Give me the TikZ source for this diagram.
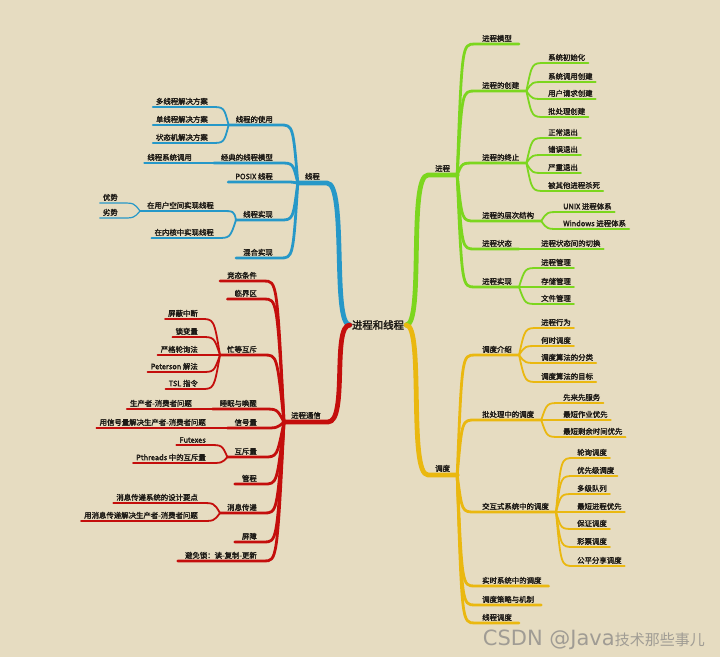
\documentclass[tikz,border=0pt]{standalone}
\usepackage{fontspec}
\setmainfont{Noto Sans CJK SC}[BoldFont=*, BoldFeatures={FakeBold=2.2}]
\newfontfamily\wmlatin{DejaVu Sans}
\definecolor{paper}{RGB}{230,220,193}
\definecolor{ink}{RGB}{30,27,22}
\definecolor{thrblue}{RGB}{38,152,200}
\definecolor{ipcred}{RGB}{196,14,12}
\definecolor{prcgreen}{RGB}{124,214,30}
\definecolor{schyellow}{RGB}{234,184,16}
\definecolor{wmgray}{RGB}{160,156,148}

\begin{document}
\begin{tikzpicture}[x=1pt, y=-1pt,
  font=\fontsize{7.4}{8.5}\selectfont\bfseries,
  lbl/.style={inner xsep=3pt, inner ysep=2pt, text=ink},
  hub/.style={lbl, inner xsep=7pt},
  top/.style={hub, inner ysep=3pt},
  br/.style={line cap=round, line join=round},
  lv1/.style={br, line width=4.8pt},
  lv2/.style={br, line width=2.8pt},
  lv3/.style={br, line width=1.8pt},
  lv4/.style={br, line width=1.2pt},
  tol/.style={to path={.. controls ([xshift=13pt]\tikztotarget) .. (\tikztotarget) \tikztonodes}},
  tor/.style={to path={.. controls ([xshift=-13pt]\tikztotarget) .. (\tikztotarget) \tikztonodes}}]

\fill[paper] (0,0) rectangle (720,657);
\useasboundingbox (0,0) rectangle (720,657);

\def\lb{280}   % right end of thread topics
\def\lr{264}   % right end of ipc topics
\def\rg{475}   % left end of process / scheduling topics

% root and the four main topics
\node[font=\fontsize{10.4}{12}\selectfont\bfseries, text=ink, inner sep=2pt] (root) at (378,325) {进程和线程};
\node[top, anchor=south east] (thr) at (327,183) {线程};
\node[top, anchor=south east] (ipc) at (328,422) {进程通信};
\node[top, anchor=south west] (prc) at (428,175) {进程};
\node[top, anchor=south west] (sch) at (428,475) {调度};

\draw[lv1, thrblue] (root.west) .. controls +(-18,0) and +(20,0) .. (thr.south east) -- (thr.south west);
\draw[lv1, ipcred] (root.west) .. controls +(-18,0) and +(20,0) .. (ipc.south east) -- (ipc.south west);
\draw[lv1, prcgreen] (root.east) .. controls +(18,0) and +(-20,0) .. (prc.south west) -- (prc.south east);
\draw[lv1, schyellow] (root.east) .. controls +(18,0) and +(-20,0) .. (sch.south west) -- (sch.south east);

% thread branch
\foreach \n/\y/\t in {use/125/线程的使用, model/163/经典的线程模型, posix/182/POSIX 线程,
                      impl/220/线程实现, hyb/258/混合实现}
{
  \node[hub, anchor=south east] (\n) at (\lb,\y) {\t};
  \draw[lv2, thrblue] (thr.south west) to[tol] (\n.south east) -- (\n.south west);
}
\foreach \n/\y/\t in {1/107/多线程解决方案, 2/125/单线程解决方案, 3/143/状态机解决方案}
{
  \node[lbl, anchor=south east] (use\n) at (211,\y) {\t};
  \draw[lv3, thrblue] (use.south west) to[tol] (use\n.south east) -- (use\n.south west);
}
\node[lbl, anchor=south east] (model1) at (195,163) {线程系统调用};
\draw[lv3, thrblue] (model.south west) -- (model1.south east) -- (model1.south west);
\node[hub, anchor=south east] (impl1) at (221,211) {在用户空间实现线程};
\node[lbl, anchor=south east] (impl2) at (217,238) {在内核中实现线程};
\foreach \n in {impl1, impl2}
  \draw[lv3, thrblue] (impl.south west) to[tol] (\n.south east) -- (\n.south west);
\foreach \n/\y/\t in {a/203/优势, b/218/劣势}
{
  \node[lbl, anchor=south east] (impl1\n) at (121,\y) {\t};
  \draw[lv4, thrblue] (impl1.south west) to[tol] (impl1\n.south east) -- (impl1\n.south west);
}

% ipc branch
\foreach \n/\y/\t in {race/281/竞态条件, crit/299/临界区, busy/355/忙等互斥, sleep/409/睡眠与唤醒,
                      sem/428/信号量, mutex/457/互斥量, mon/484/管程, msg/513/消息传递,
                      bar/542/屏障, rcu/561/{避免锁：读-复制-更新}}
{
  \node[hub, anchor=south east] (\n) at (\lr,\y) {\t};
  \draw[lv2, ipcred] (ipc.south west) to[tol] (\n.south east) -- (\n.south west);
}
\foreach \n/\y/\t in {1/319/屏蔽中断, 2/337/锁变量, 3/355/严格轮询法, 4/372/Peterson 解法, 5/389/TSL 指令}
{
  \node[lbl, anchor=south east] (busy\n) at (201,\y) {\t};
  \draw[lv3, ipcred] (busy.south west) to[tol] (busy\n.south east) -- (busy\n.south west);
}
\node[lbl, anchor=south east] (sleep1) at (195,409) {生产者-消费者问题};
\draw[lv3, ipcred] (sleep.south west) -- (sleep1.south east) -- (sleep1.south west);
\node[lbl, anchor=south east] (sem1) at (209,428) {用信号量解决生产者-消费者问题};
\draw[lv3, ipcred] (sem.south west) -- (sem1.south east) -- (sem1.south west);
\foreach \n/\y/\t in {1/445/Futexes, 2/463/Pthreads 中的互斥量}
{
  \node[lbl, anchor=south east] (mutex\n) at (209,\y) {\t};
  \draw[lv3, ipcred] (mutex.south west) to[tol] (mutex\n.south east) -- (mutex\n.south west);
}
\foreach \n/\y/\t in {1/503/消息传递系统的设计要点, 2/521/用消息传递解决生产者-消费者问题}
{
  \node[lbl, anchor=south east] (msg\n) at (201,\y) {\t};
  \draw[lv3, ipcred] (msg.south west) to[tol] (msg\n.south east) -- (msg\n.south west);
}

% process branch
\foreach \n/\y/\t in {pmodel/44/进程模型, create/91/进程的创建, term/163/进程的终止,
                      tree/221/进程的层次结构, state/249/进程状态, pimpl/287/进程实现}
{
  \node[hub, anchor=south west] (\n) at (\rg,\y) {\t};
  \draw[lv2, prcgreen] (prc.south east) to[tor] (\n.south west) -- (\n.south east);
}
\foreach \n/\y/\t in {1/63/系统初始化, 2/82/系统调用创建, 3/99/用户请求创建, 4/117/批处理创建}
{
  \node[lbl, anchor=south west] (create\n) at (545,\y) {\t};
  \draw[lv3, prcgreen] (create.south east) to[tor] (create\n.south west) -- (create\n.south east);
}
\foreach \n/\y/\t in {1/138/正常退出, 2/155/错误退出, 3/173/严重退出, 4/191/被其他进程杀死}
{
  \node[lbl, anchor=south west] (term\n) at (545,\y) {\t};
  \draw[lv3, prcgreen] (term.south east) to[tor] (term\n.south west) -- (term\n.south east);
}
\foreach \n/\y/\t in {1/212/UNIX 进程体系, 2/229/Windows 进程体系}
{
  \node[lbl, anchor=south west] (tree\n) at (560,\y) {\t};
  \draw[lv3, prcgreen] (tree.south east) to[tor] (tree\n.south west) -- (tree\n.south east);
}
\node[lbl, anchor=south west] (state1) at (538,249) {进程状态间的切换};
\draw[lv3, prcgreen] (state.south east) -- (state1.south west) -- (state1.south east);
\foreach \n/\y/\t in {1/268/进程管理, 2/287/存储管理, 3/304/文件管理}
{
  \node[lbl, anchor=south west] (pimpl\n) at (538,\y) {\t};
  \draw[lv3, prcgreen] (pimpl.south east) to[tor] (pimpl\n.south west) -- (pimpl\n.south east);
}

% scheduling branch
\foreach \n/\y/\t in {intro/355/调度介绍, batch/420/批处理中的调度, inter/512/交互式系统中的调度,
                      rt/586/实时系统中的调度, pol/605/调度策略与机制, tsch/623/线程调度}
{
  \node[hub, anchor=south west] (\n) at (\rg,\y) {\t};
  \draw[lv2, schyellow] (sch.south east) to[tor] (\n.south west) -- (\n.south east);
}
\foreach \n/\y/\t in {1/328/进程行为, 2/346/何时调度, 3/363/调度算法的分类, 4/382/调度算法的目标}
{
  \node[lbl, anchor=south west] (intro\n) at (538,\y) {\t};
  \draw[lv3, schyellow] (intro.south east) to[tor] (intro\n.south west) -- (intro\n.south east);
}
\foreach \n/\y/\t in {1/403/先来先服务, 2/420/最短作业优先, 3/437/最短剩余时间优先}
{
  \node[lbl, anchor=south west] (batch\n) at (560,\y) {\t};
  \draw[lv3, schyellow] (batch.south east) to[tor] (batch\n.south west) -- (batch\n.south east);
}
\foreach \n/\y/\t in {1/458/轮询调度, 2/476/优先级调度, 3/494/多级队列, 4/512/最短进程优先,
                      5/529/保证调度, 6/547/彩票调度, 7/566/公平分享调度}
{
  \node[lbl, anchor=south west] (inter\n) at (574,\y) {\t};
  \draw[lv3, schyellow] (inter.south east) to[tor] (inter\n.south west) -- (inter\n.south east);
}

% watermark
\node[font=\mdseries, text=wmgray, anchor=base east, inner sep=0pt] (wm) at (705,645)
  {{\wmlatin\fontsize{21}{23}\selectfont CSDN @Java}{\fontsize{15}{17}\selectfont 技术那些事儿}};

\end{tikzpicture}
\end{document}
